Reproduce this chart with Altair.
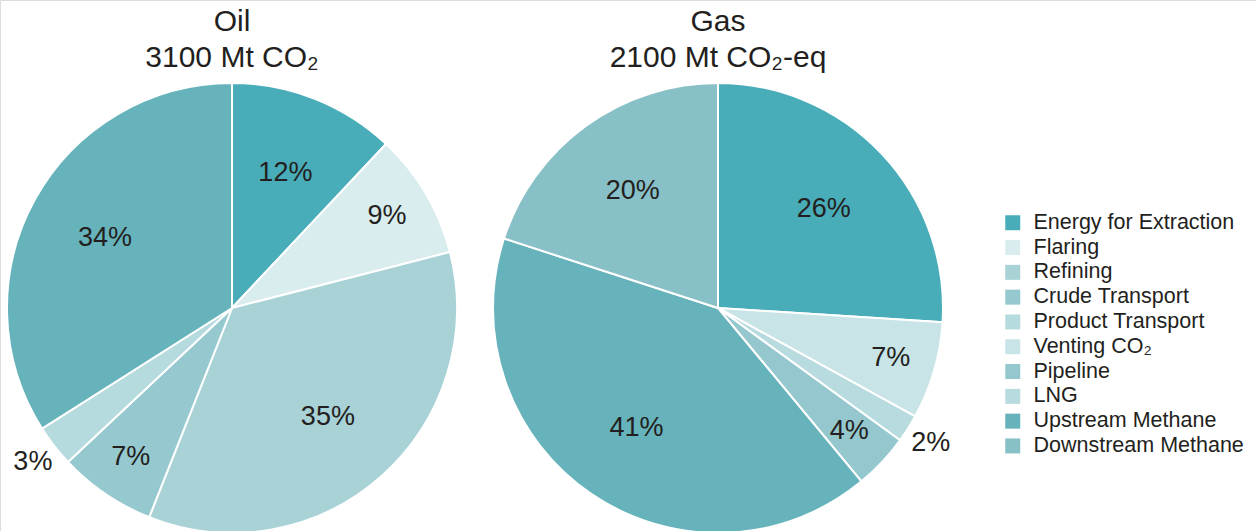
import altair as alt
import pandas as pd

categories = ["Energy for Extraction", "Flaring", "Refining", "Crude Transport",
              "Product Transport", "Venting CO\u2082", "Pipeline", "LNG",
              "Upstream Methane", "Downstream Methane"]
colors = ["#48adb8", "#d9ecee", "#a8d2d6", "#95c9cf", "#b6dbdf",
          "#c8e4e7", "#94c8ce", "#b8dbdf", "#66b3bb", "#88c0c7"]

oil_categories = ["Energy for Extraction", "Flaring", "Refining", "Crude Transport",
                  "Product Transport", "Upstream Methane"]
oil_values = [12, 9, 35, 7, 3, 34]

gas_categories = ["Energy for Extraction", "Venting CO\u2082", "LNG", "Pipeline",
                  "Upstream Methane", "Downstream Methane"]
gas_values = [26, 7, 2, 4, 41, 20]

oil_title = ["Oil", "3100 Mt CO\u2082"]
gas_title = ["Gas", "2100 Mt CO\u2082-eq"]

FONT = "Liberation Sans"
TXT = "#231f20"

oil_df = pd.DataFrame({"category": oil_categories, "value": oil_values,
                       "idx": list(range(len(oil_values)))})
gas_df = pd.DataFrame({"category": gas_categories, "value": gas_values,
                       "idx": list(range(len(gas_values)))})

theta_scale = alt.Scale(domain=[0, 100])

color_enc = alt.Color(
    "category:N",
    scale=alt.Scale(domain=categories, range=colors),
    legend=alt.Legend(
        title=None, orient="none", legendX=1002, legendY=212,
        symbolType="square", symbolSize=225, symbolStrokeWidth=0,
        symbolOpacity=1, labelFontSize=21.5, labelFont=FONT, labelColor=TXT,
        rowPadding=1.8, labelOffset=10, padding=0, labelLimit=300,
    ),
    sort=categories,
)


def pie(df, cx, cy, title_lines):
    arcs = alt.Chart(df).mark_arc(outerRadius=225, stroke="white", strokeWidth=2).encode(
        theta=alt.Theta("value:Q", stack=True, scale=theta_scale),
        order=alt.Order("idx:Q"),
        color=color_enc,
        x=alt.value(cx), y=alt.value(cy),
    )
    labels = alt.Chart(df).transform_window(
        cum="sum(value)", sort=[alt.SortField("idx", order="ascending")],
        frame=[None, 0],
    ).transform_calculate(
        mid="datum.cum - datum.value / 2",
        r="datum.value <= 3 ? 252 : (datum.value < 10 ? 180 : 145)",
        lab="datum.value + '%'",
    ).mark_text(font=FONT, fontSize=27, color=TXT).encode(
        theta=alt.Theta("mid:Q", stack=None, scale=theta_scale),
        radius=alt.Radius("r:Q", scale=None),
        text="lab:N",
        x=alt.value(cx), y=alt.value(cy),
    )
    t1 = alt.Chart(pd.DataFrame({"t": [title_lines[0]]})).mark_text(
        font=FONT, fontSize=30, color=TXT).encode(
        text="t:N", x=alt.value(cx), y=alt.value(22))
    t2 = alt.Chart(pd.DataFrame({"t": [title_lines[1]]})).mark_text(
        font=FONT, fontSize=30, color=TXT).encode(
        text="t:N", x=alt.value(cx), y=alt.value(58))
    return [arcs, labels, t1, t2]


layers = pie(oil_df, 232, 308, oil_title) + pie(gas_df, 718, 308, gas_title)

chart = alt.layer(*layers).properties(
    width=1256, height=531, padding=0,
    autosize=alt.AutoSizeParams(type="none"),
).configure_view(stroke=None).configure(background="white")

chart.save("out.html", embed_options={"renderer": "svg", "actions": False})
